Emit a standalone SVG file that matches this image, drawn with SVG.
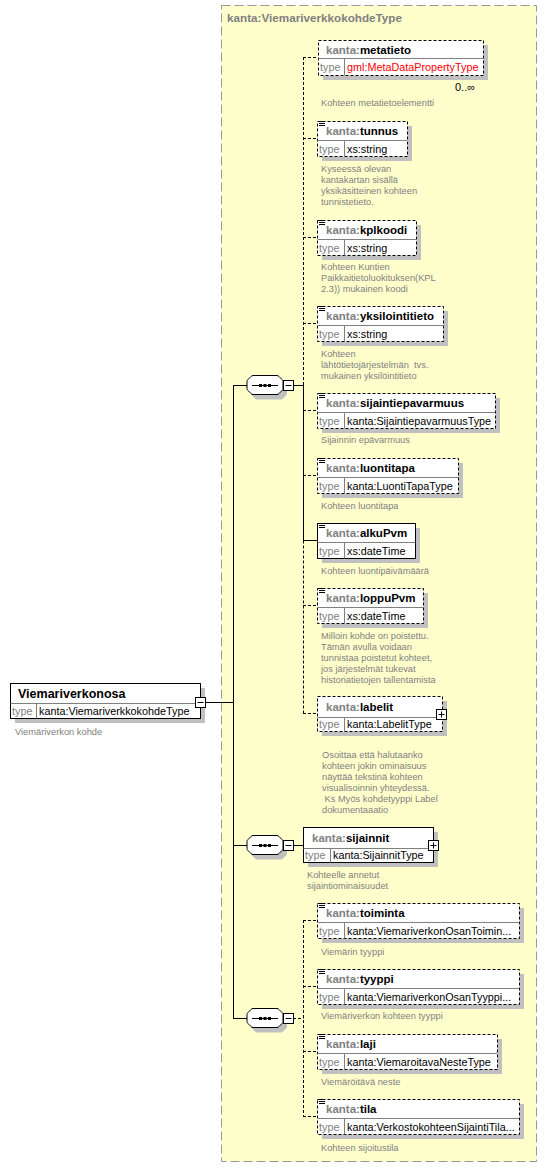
<svg xmlns="http://www.w3.org/2000/svg" width="547" height="1168" viewBox="0 0 547 1168">
<style>
text{font-family:"Liberation Sans",Arial,sans-serif}
.nm{font-size:11.5px;font-weight:bold;fill:#000}
.rn{font-size:12.5px;font-weight:bold;fill:#000}
.pf{fill:#808080}
.ty{font-size:10.8px;fill:#000}
.red{fill:#ff0000}
.tl{font-size:10.8px;fill:#808080}
.doc{font-size:9.3px;fill:#808080}
.ttl{font-size:11.7px;font-weight:bold;fill:#808080}
.sh{fill:#c0c0c0}
.bx{fill:#fff;stroke:#000;stroke-width:1}
.d{stroke-dasharray:3 2}
.sep{stroke:#808080;stroke-width:1}
.ic{stroke:#000;stroke-width:1;fill:none}
.ln{stroke:#000;stroke-width:1;fill:none}
.btn{fill:#fff;stroke:#000;stroke-width:1}
</style>
<defs>
<path id="oct" d="M253,0.5 H277 Q278,0.5 279,1.5 L282,4.5 Q283,5.5 283,6.5 V13.5 Q283,14.5 282,15.5 L279,18.5 Q278,19.5 277,19.5 H253 Q252,19.5 251,18.5 L248,15.5 Q247,14.5 247,13.5 V6.5 Q247,5.5 248,4.5 L251,1.5 Q252,0.5 253,0.5 Z"/>
<g id="seqin">
<path class="ln" d="M252,10.5 H278"/>
<rect x="259" y="9" width="3" height="3" fill="#000"/>
<rect x="263.5" y="9" width="3" height="3" fill="#000"/>
<rect x="268" y="9" width="3" height="3" fill="#000"/>
<rect class="btn" x="283.5" y="5.5" width="10" height="10"/>
<path class="ln" d="M285.5,10.5 H291.5"/>
</g>
</defs>

<rect x="221.5" y="5.5" width="315" height="1156" fill="#ffffcc" stroke="#999" stroke-dasharray="9 4"/>
<text class="ttl" x="227" y="22">kanta:ViemariverkkokohdeType</text>

<g id="connectors">
<path class="ln" d="M205,702.5 H233.5"/>
<path class="ln" d="M233.5,385 V1019"/>
<path class="ln" d="M233,385.5 H248 M233,845.5 H248 M233,1018.5 H248"/>
<path class="ln" d="M293,385.5 H303.5"/>
<path class="ln d" d="M303.5,57 V385"/>
<path class="ln" d="M303.5,385 V540.5"/>
<path class="ln d" d="M303.5,540.5 V713.5"/>
<path class="ln d" d="M303,57.5 H318 M303,138.5 H317 M303,237.5 H317 M303,323.5 H317 M303,410.5 H317 M303,475.5 H317 M303,605.5 H317 M303,713.5 H317"/>
<path class="ln" d="M303,540.5 H317"/>
<path class="ln" d="M293,845.5 H303"/>
<path class="ln d" d="M293,1018.5 H303.5 M303.5,920 V1116.5"/>
<path class="ln d" d="M303,920.5 H317 M303,986.5 H317 M303,1051.5 H317 M303,1116.5 H317"/>
</g>

<g id="root" transform="translate(10,683)">
<rect class="sh" x="5" y="5" width="190" height="35"/>
<rect class="bx" x="0.5" y="0.5" width="190" height="35"/>
<line class="sep" x1="0.5" y1="20.5" x2="190" y2="20.5"/>
<line class="sep" x1="26.5" y1="20.5" x2="26.5" y2="35.5"/>
<text class="rn" x="8" y="14.5">Viemariverkonosa</text>
<text class="tl" x="2" y="32">type</text>
<text class="ty" x="29" y="32">kanta:ViemariverkkokohdeType</text>
<rect class="btn" x="185.5" y="14.5" width="10" height="10"/>
<path class="ln" d="M187.5,19.5 H193.5"/>
<text class="doc" x="5" y="51.5">Viemäriverkon kohde</text>
</g>

<g id="seq1" transform="translate(0,375)">
<use href="#oct" class="sh" transform="translate(4,5)"/>
<use href="#oct" class="bx"/>
<use href="#seqin"/>
</g>
<g id="seq2" transform="translate(0,835)">
<use href="#oct" class="sh" transform="translate(4,5)"/>
<use href="#oct" class="bx"/>
<use href="#seqin"/>
</g>
<g id="seq3" transform="translate(0,1008)">
<use href="#oct" class="sh" transform="translate(4,5)"/>
<use href="#oct" class="bx"/>
<use href="#seqin"/>
</g>

<g id="metatieto" transform="translate(318,40)">
<rect class="sh" x="5" y="5" width="165" height="35"/>
<rect class="bx d" x="0.5" y="0.5" width="165" height="35"/>
<line class="sep" x1="0.5" y1="18.5" x2="165" y2="18.5"/>
<line class="sep" x1="26.5" y1="18.5" x2="26.5" y2="35.5"/>
<text class="nm" x="8" y="13.5"><tspan class="pf">kanta:</tspan>metatieto</text>
<text class="tl" x="2" y="31">type</text>
<text class="ty red" x="29" y="31">gml:MetaDataPropertyType</text>
<text x="137" y="51" style="font-size:11px;fill:#000">0..∞</text>
<text class="doc" x="3" y="65.5">Kohteen metatietoelementti</text>
</g>

<g id="tunnus" transform="translate(317,121)">
<rect class="sh" x="5" y="5" width="90" height="35"/>
<rect class="bx d" x="0.5" y="0.5" width="90" height="35"/>
<line class="sep" x1="0.5" y1="19.5" x2="90" y2="19.5"/>
<line class="sep" x1="27.5" y1="19.5" x2="27.5" y2="35.5"/>
<path class="ic" d="M2,0.5h6M2,2.5h6M2,4.5h6"/>
<text class="nm" x="9" y="14"><tspan class="pf">kanta:</tspan>tunnus</text>
<text class="tl" x="2" y="31.5">type</text>
<text class="ty" x="30" y="31.5">xs:string</text>
<text class="doc" x="4" y="50.5">Kyseessä olevan</text>
<text class="doc" x="4" y="61.5">kantakartan sisällä</text>
<text class="doc" x="4" y="72.5">yksikäsitteinen kohteen</text>
<text class="doc" x="4" y="83.5">tunnistetieto.</text>
</g>

<g id="kplkoodi" transform="translate(317,220)">
<rect class="sh" x="5" y="5" width="99" height="35"/>
<rect class="bx d" x="0.5" y="0.5" width="99" height="35"/>
<line class="sep" x1="0.5" y1="19.5" x2="99" y2="19.5"/>
<line class="sep" x1="27.5" y1="19.5" x2="27.5" y2="35.5"/>
<path class="ic" d="M2,0.5h6M2,2.5h6M2,4.5h6"/>
<text class="nm" x="9" y="14"><tspan class="pf">kanta:</tspan>kplkoodi</text>
<text class="tl" x="2" y="31.5">type</text>
<text class="ty" x="30" y="31.5">xs:string</text>
<text class="doc" x="4" y="49.5">Kohteen Kuntien</text>
<text class="doc" x="4" y="60.5">Paikkaitietoluokituksen(KPL</text>
<text class="doc" x="4" y="71.5">2.3)) mukainen koodi</text>
</g>

<g id="yksilointitieto" transform="translate(317,306)">
<rect class="sh" x="5" y="5" width="126" height="35"/>
<rect class="bx d" x="0.5" y="0.5" width="126" height="35"/>
<line class="sep" x1="0.5" y1="19.5" x2="126" y2="19.5"/>
<line class="sep" x1="27.5" y1="19.5" x2="27.5" y2="35.5"/>
<path class="ic" d="M2,0.5h6M2,2.5h6M2,4.5h6"/>
<text class="nm" x="9" y="14"><tspan class="pf">kanta:</tspan>yksilointitieto</text>
<text class="tl" x="2" y="31.5">type</text>
<text class="ty" x="30" y="31.5">xs:string</text>
<text class="doc" x="4" y="50.5">Kohteen</text>
<text class="doc" x="4" y="61.5" xml:space="preserve">lähtötietojärjestelmän  tvs.</text>
<text class="doc" x="4" y="72.5">mukainen yksilöintitieto</text>
</g>

<g id="sijaintiepavarmuus" transform="translate(317,393)">
<rect class="sh" x="5" y="5" width="178" height="35"/>
<rect class="bx d" x="0.5" y="0.5" width="178" height="35"/>
<line class="sep" x1="0.5" y1="19.5" x2="178" y2="19.5"/>
<line class="sep" x1="27.5" y1="19.5" x2="27.5" y2="35.5"/>
<path class="ic" d="M2,0.5h6M2,2.5h6M2,4.5h6"/>
<text class="nm" x="9" y="14"><tspan class="pf">kanta:</tspan>sijaintiepavarmuus</text>
<text class="tl" x="2" y="31.5">type</text>
<text class="ty" x="30" y="31.5">kanta:SijaintiepavarmuusType</text>
<text class="doc" x="4" y="49.5">Sijainnin epävarmuus</text>
</g>

<g id="luontitapa" transform="translate(317,458)">
<rect class="sh" x="5" y="5" width="141" height="35"/>
<rect class="bx d" x="0.5" y="0.5" width="141" height="35"/>
<line class="sep" x1="0.5" y1="19.5" x2="141" y2="19.5"/>
<line class="sep" x1="27.5" y1="19.5" x2="27.5" y2="35.5"/>
<path class="ic" d="M2,0.5h6M2,2.5h6M2,4.5h6"/>
<text class="nm" x="9" y="14"><tspan class="pf">kanta:</tspan>luontitapa</text>
<text class="tl" x="2" y="31.5">type</text>
<text class="ty" x="30" y="31.5">kanta:LuontiTapaType</text>
<text class="doc" x="4" y="50.5">Kohteen luontitapa</text>
</g>

<g id="alkuPvm" transform="translate(317,523)">
<rect class="sh" x="5" y="5" width="98" height="35"/>
<rect class="bx" x="0.5" y="0.5" width="98" height="35"/>
<line class="sep" x1="0.5" y1="19.5" x2="98" y2="19.5"/>
<line class="sep" x1="27.5" y1="19.5" x2="27.5" y2="35.5"/>
<path class="ic" d="M2,0.5h6M2,2.5h6M2,4.5h6"/>
<text class="nm" x="9" y="14"><tspan class="pf">kanta:</tspan>alkuPvm</text>
<text class="tl" x="2" y="31.5">type</text>
<text class="ty" x="30" y="31.5">xs:dateTime</text>
<text class="doc" x="4" y="50.5">Kohteen luontipäivämäärä</text>
</g>

<g id="loppuPvm" transform="translate(317,588)">
<rect class="sh" x="5" y="5" width="106" height="35"/>
<rect class="bx d" x="0.5" y="0.5" width="106" height="35"/>
<line class="sep" x1="0.5" y1="19.5" x2="106" y2="19.5"/>
<line class="sep" x1="27.5" y1="19.5" x2="27.5" y2="35.5"/>
<path class="ic" d="M2,0.5h6M2,2.5h6M2,4.5h6"/>
<text class="nm" x="9" y="14"><tspan class="pf">kanta:</tspan>loppuPvm</text>
<text class="tl" x="2" y="31.5">type</text>
<text class="ty" x="30" y="31.5">xs:dateTime</text>
<text class="doc" x="4" y="50.5">Milloin kohde on poistettu.</text>
<text class="doc" x="4" y="61.5">Tämän avulla voidaan</text>
<text class="doc" x="4" y="72.5">tunnistaa poistetut kohteet,</text>
<text class="doc" x="4" y="83.5">jos järjestelmät tukevat</text>
<text class="doc" x="4" y="94.5">historiatietojen tallentamista</text>
</g>

<g id="labelit" transform="translate(317,696)">
<rect class="sh" x="5" y="5" width="125" height="35"/>
<rect class="bx d" x="0.5" y="0.5" width="125" height="35"/>
<line class="sep" x1="0.5" y1="21.5" x2="125" y2="21.5"/>
<line class="sep" x1="27.5" y1="21.5" x2="27.5" y2="35.5"/>
<text class="nm" x="9" y="15"><tspan class="pf">kanta:</tspan>labelit</text>
<text class="tl" x="2" y="32">type</text>
<text class="ty" x="30" y="32">kanta:LabelitType</text>
<rect class="btn" x="119.5" y="13.5" width="10" height="10"/>
<path class="ln" d="M121.5,18.5 H127.5 M124.5,15.5 V21.5"/>
<text class="doc" x="5" y="61.5">Osoittaa että halutaanko</text>
<text class="doc" x="5" y="72.5">kohteen jokin ominaisuus</text>
<text class="doc" x="5" y="83.5">näyttää tekstinä kohteen</text>
<text class="doc" x="5" y="94.5">visualisoinnin yhteydessä.</text>
<text class="doc" x="5" y="105.5" xml:space="preserve"> Ks Myös kohdetyyppi Label</text>
<text class="doc" x="5" y="116.5">dokumentaaatio</text>
</g>

<g id="sijainnit" transform="translate(303,827)">
<rect class="sh" x="5" y="5" width="130" height="35"/>
<rect class="bx" x="0.5" y="0.5" width="130" height="35"/>
<line class="sep" x1="0.5" y1="21.5" x2="130" y2="21.5"/>
<line class="sep" x1="27.5" y1="21.5" x2="27.5" y2="35.5"/>
<text class="nm" x="9" y="15"><tspan class="pf">kanta:</tspan>sijainnit</text>
<text class="tl" x="2" y="32">type</text>
<text class="ty" x="30" y="32">kanta:SijainnitType</text>
<rect class="btn" x="125.5" y="13.5" width="10" height="10"/>
<path class="ln" d="M127.5,18.5 H133.5 M130.5,15.5 V21.5"/>
<text class="doc" x="4" y="50.5">Kohteelle annetut</text>
<text class="doc" x="4" y="61.5">sijaintiominaisuudet</text>
</g>

<g id="toiminta" transform="translate(317,903)">
<rect class="sh" x="5" y="5" width="202" height="35"/>
<rect class="bx d" x="0.5" y="0.5" width="202" height="35"/>
<line class="sep" x1="0.5" y1="19.5" x2="202" y2="19.5"/>
<line class="sep" x1="27.5" y1="19.5" x2="27.5" y2="35.5"/>
<path class="ic" d="M2,0.5h6M2,2.5h6M2,4.5h6"/>
<text class="nm" x="9" y="14"><tspan class="pf">kanta:</tspan>toiminta</text>
<text class="tl" x="2" y="31.5">type</text>
<text class="ty" x="30" y="31.5">kanta:ViemariverkonOsanToimin...</text>
<text class="doc" x="4" y="51.5">Viemärin tyyppi</text>
</g>

<g id="tyyppi" transform="translate(317,969)">
<rect class="sh" x="5" y="5" width="202" height="35"/>
<rect class="bx d" x="0.5" y="0.5" width="202" height="35"/>
<line class="sep" x1="0.5" y1="19.5" x2="202" y2="19.5"/>
<line class="sep" x1="27.5" y1="19.5" x2="27.5" y2="35.5"/>
<path class="ic" d="M2,0.5h6M2,2.5h6M2,4.5h6"/>
<text class="nm" x="9" y="14"><tspan class="pf">kanta:</tspan>tyyppi</text>
<text class="tl" x="2" y="31.5">type</text>
<text class="ty" x="30" y="31.5">kanta:ViemariverkonOsanTyyppi...</text>
<text class="doc" x="4" y="49.5">Viemäriverkon kohteen tyyppi</text>
</g>

<g id="laji" transform="translate(317,1034)">
<rect class="sh" x="5" y="5" width="180" height="35"/>
<rect class="bx d" x="0.5" y="0.5" width="180" height="35"/>
<line class="sep" x1="0.5" y1="19.5" x2="180" y2="19.5"/>
<line class="sep" x1="27.5" y1="19.5" x2="27.5" y2="35.5"/>
<path class="ic" d="M2,0.5h6M2,2.5h6M2,4.5h6"/>
<text class="nm" x="9" y="14"><tspan class="pf">kanta:</tspan>laji</text>
<text class="tl" x="2" y="31.5">type</text>
<text class="ty" x="30" y="31.5">kanta:ViemaroitavaNesteType</text>
<text class="doc" x="4" y="50.5">Viemäröitävä neste</text>
</g>

<g id="tila" transform="translate(317,1099)">
<rect class="sh" x="5" y="5" width="202" height="35"/>
<rect class="bx d" x="0.5" y="0.5" width="202" height="35"/>
<line class="sep" x1="0.5" y1="19.5" x2="202" y2="19.5"/>
<line class="sep" x1="27.5" y1="19.5" x2="27.5" y2="35.5"/>
<path class="ic" d="M2,0.5h6M2,2.5h6M2,4.5h6"/>
<text class="nm" x="9" y="14"><tspan class="pf">kanta:</tspan>tila</text>
<text class="tl" x="2" y="31.5">type</text>
<text class="ty" x="30" y="31.5">kanta:VerkostokohteenSijaintiTila...</text>
<text class="doc" x="4" y="51.5">Kohteen sijoitustila</text>
</g>
</svg>
